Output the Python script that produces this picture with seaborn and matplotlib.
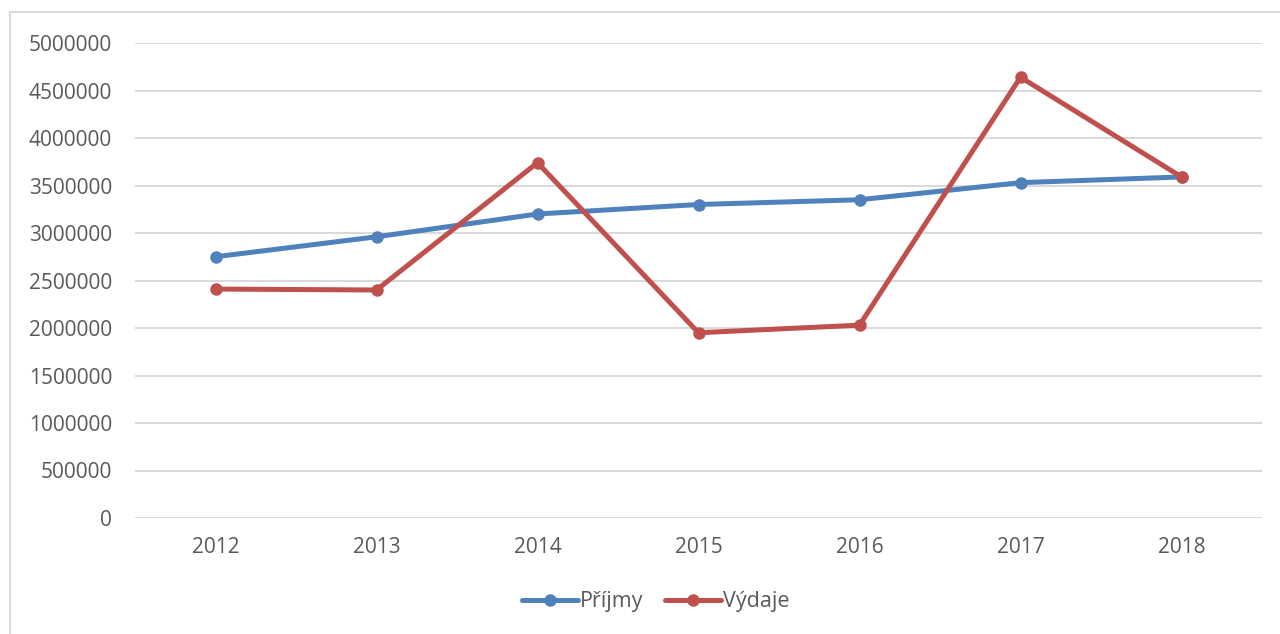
import pandas as pd
import matplotlib
matplotlib.use('Agg')
import matplotlib.pyplot as plt
from matplotlib.patches import Rectangle
import seaborn as sns

# data
years = ['2012', '2013', '2014', '2015', '2016', '2017', '2018']
prijmy = [2750000, 2960000, 3200000, 3300000, 3350000, 3530000, 3590000]
vydaje = [2410000, 2400000, 3740000, 1950000, 2030000, 4640000, 3590000]
series_names = ['Příjmy', 'Výdaje']
y_ticks = list(range(0, 5000001, 500000))

df = pd.DataFrame({
    'rok': years * 2,
    'hodnota': prijmy + vydaje,
    'serie': [series_names[0]] * len(years) + [series_names[1]] * len(years),
})

sns.set_style('white')
plt.rcParams['font.family'] = ['Open Sans', 'DejaVu Sans']

fig = plt.figure(figsize=(12.8, 6.34), dpi=100)
ax = fig.add_axes([135 / 1280, 1 - 518 / 634, (1262 - 135) / 1280, (518 - 43) / 634])

sns.lineplot(data=df, x='rok', y='hodnota', hue='serie',
             palette=['#4F81BD', '#C0504D'], marker='o', markersize=9,
             markeredgewidth=0, linewidth=3.6, sort=False, ax=ax)

ax.set_xlim(-0.5, len(years) - 0.5)
ax.set_ylim(0, 5000000)
ax.set_yticks(y_ticks)
ax.set_yticklabels([str(v) for v in y_ticks])
ax.grid(axis='y', color='#d9d9d9', linewidth=1.4)
ax.set_axisbelow(True)
for s in ax.spines.values():
    s.set_visible(False)
ax.tick_params(axis='y', length=0, pad=16.5, labelsize=15, labelcolor='#595959')
ax.tick_params(axis='x', length=0, pad=14, labelsize=15, labelcolor='#595959')
ax.set_xlabel('')
ax.set_ylabel('')

ax.legend_.remove()
handles, labels = ax.get_legend_handles_labels()
fig.legend(handles, labels, loc='center', bbox_to_anchor=(0.512, 1 - 602 / 634),
           ncol=2, frameon=False, fontsize=15.5, labelcolor='#595959',
           handlelength=2.6, handletextpad=0.1, columnspacing=1.0)

# light frame round the chart
fig.add_artist(Rectangle((10 / 1280, -0.1), 1.2, 1 - 12 / 634 + 0.1,
                         transform=fig.transFigure, fill=False,
                         edgecolor='#d9d9d9', linewidth=1.5))

fig.savefig('out.png', dpi=100)
